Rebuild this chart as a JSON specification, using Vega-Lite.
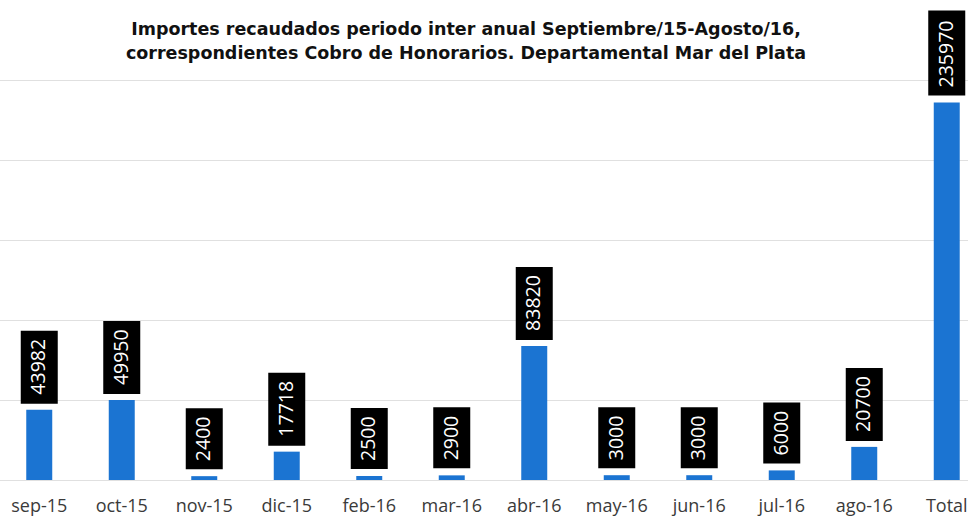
{
  "$schema": "https://vega.github.io/schema/vega-lite/v6.json",
  "autosize": "none",
  "width": 990,
  "height": 400,
  "padding": {"left": -2, "top": 80, "right": 0, "bottom": 36},
  "background": "white",
  "title": {
    "text": ["Importes recaudados periodo inter anual Septiembre/15-Agosto/16,", "correspondientes Cobro de Honorarios. Departamental  Mar del Plata"],
    "font": "DejaVu Sans",
    "fontSize": 17.5,
    "fontWeight": "bold",
    "color": "#111111",
    "anchor": "middle",
    "dx": -27,
    "dy": 72,
    "lineHeight": 24,
    "offset": 20
  },
  "data": {
    "values": [
      {"mes": "sep-15", "importe": 43982},
      {"mes": "oct-15", "importe": 49950},
      {"mes": "nov-15", "importe": 2400},
      {"mes": "dic-15", "importe": 17718},
      {"mes": "feb-16", "importe": 2500},
      {"mes": "mar-16", "importe": 2900},
      {"mes": "abr-16", "importe": 83820},
      {"mes": "may-16", "importe": 3000},
      {"mes": "jun-16", "importe": 3000},
      {"mes": "jul-16", "importe": 6000},
      {"mes": "ago-16", "importe": 20700},
      {"mes": "Total", "importe": 235970}
    ]
  },
  "encoding": {
    "x": {
      "field": "mes",
      "type": "nominal",
      "sort": null,
      "scale": {"paddingInner": 0.685, "paddingOuter": 0.3425},
      "axis": {
        "title": null,
        "labelAngle": 0,
        "labelFont": "Open Sans",
        "labelFontSize": 18,
        "labelColor": "#3a3a3a",
        "labelPadding": 17,
        "ticks": false,
        "domain": false,
        "grid": false
      }
    },
    "y": {
      "field": "importe",
      "type": "quantitative",
      "scale": {"domain": [0, 250000], "nice": false},
      "axis": {
        "title": null,
        "labels": false,
        "ticks": false,
        "domain": false,
        "grid": true,
        "gridColor": "#e0e0e0",
        "gridWidth": 1,
        "values": [0, 50000, 100000, 150000, 200000, 250000]
      }
    }
  },
  "layer": [
    {
      "mark": {"type": "bar", "color": "#1b74d2", "clip": false}
    },
    {
      "mark": {"type": "point", "filled": true, "color": "black", "opacity": 1, "size": 10000, "strokeWidth": 0},
      "encoding": {
        "shape": {
          "condition": [
            {"test": "datum.importe >= 100000", "value": "M-0.37,-0.14L0.37,-0.14L0.37,-1.84L-0.37,-1.84Z"},
            {"test": "datum.importe >= 10000", "value": "M-0.37,-0.12L0.37,-0.12L0.37,-1.58L-0.37,-1.58Z"}
          ],
          "value": "M-0.37,-0.14L0.37,-0.14L0.37,-1.36L-0.37,-1.36Z"
        }
      }
    },
    {
      "mark": {"type": "text", "angle": 270, "align": "left", "baseline": "middle", "yOffset": -15, "color": "white", "font": "Open Sans", "fontSize": 19.5},
      "encoding": {
        "text": {"field": "importe", "type": "quantitative", "format": "d"}
      }
    }
  ],
  "config": {
    "view": {"stroke": null}
  }
}
